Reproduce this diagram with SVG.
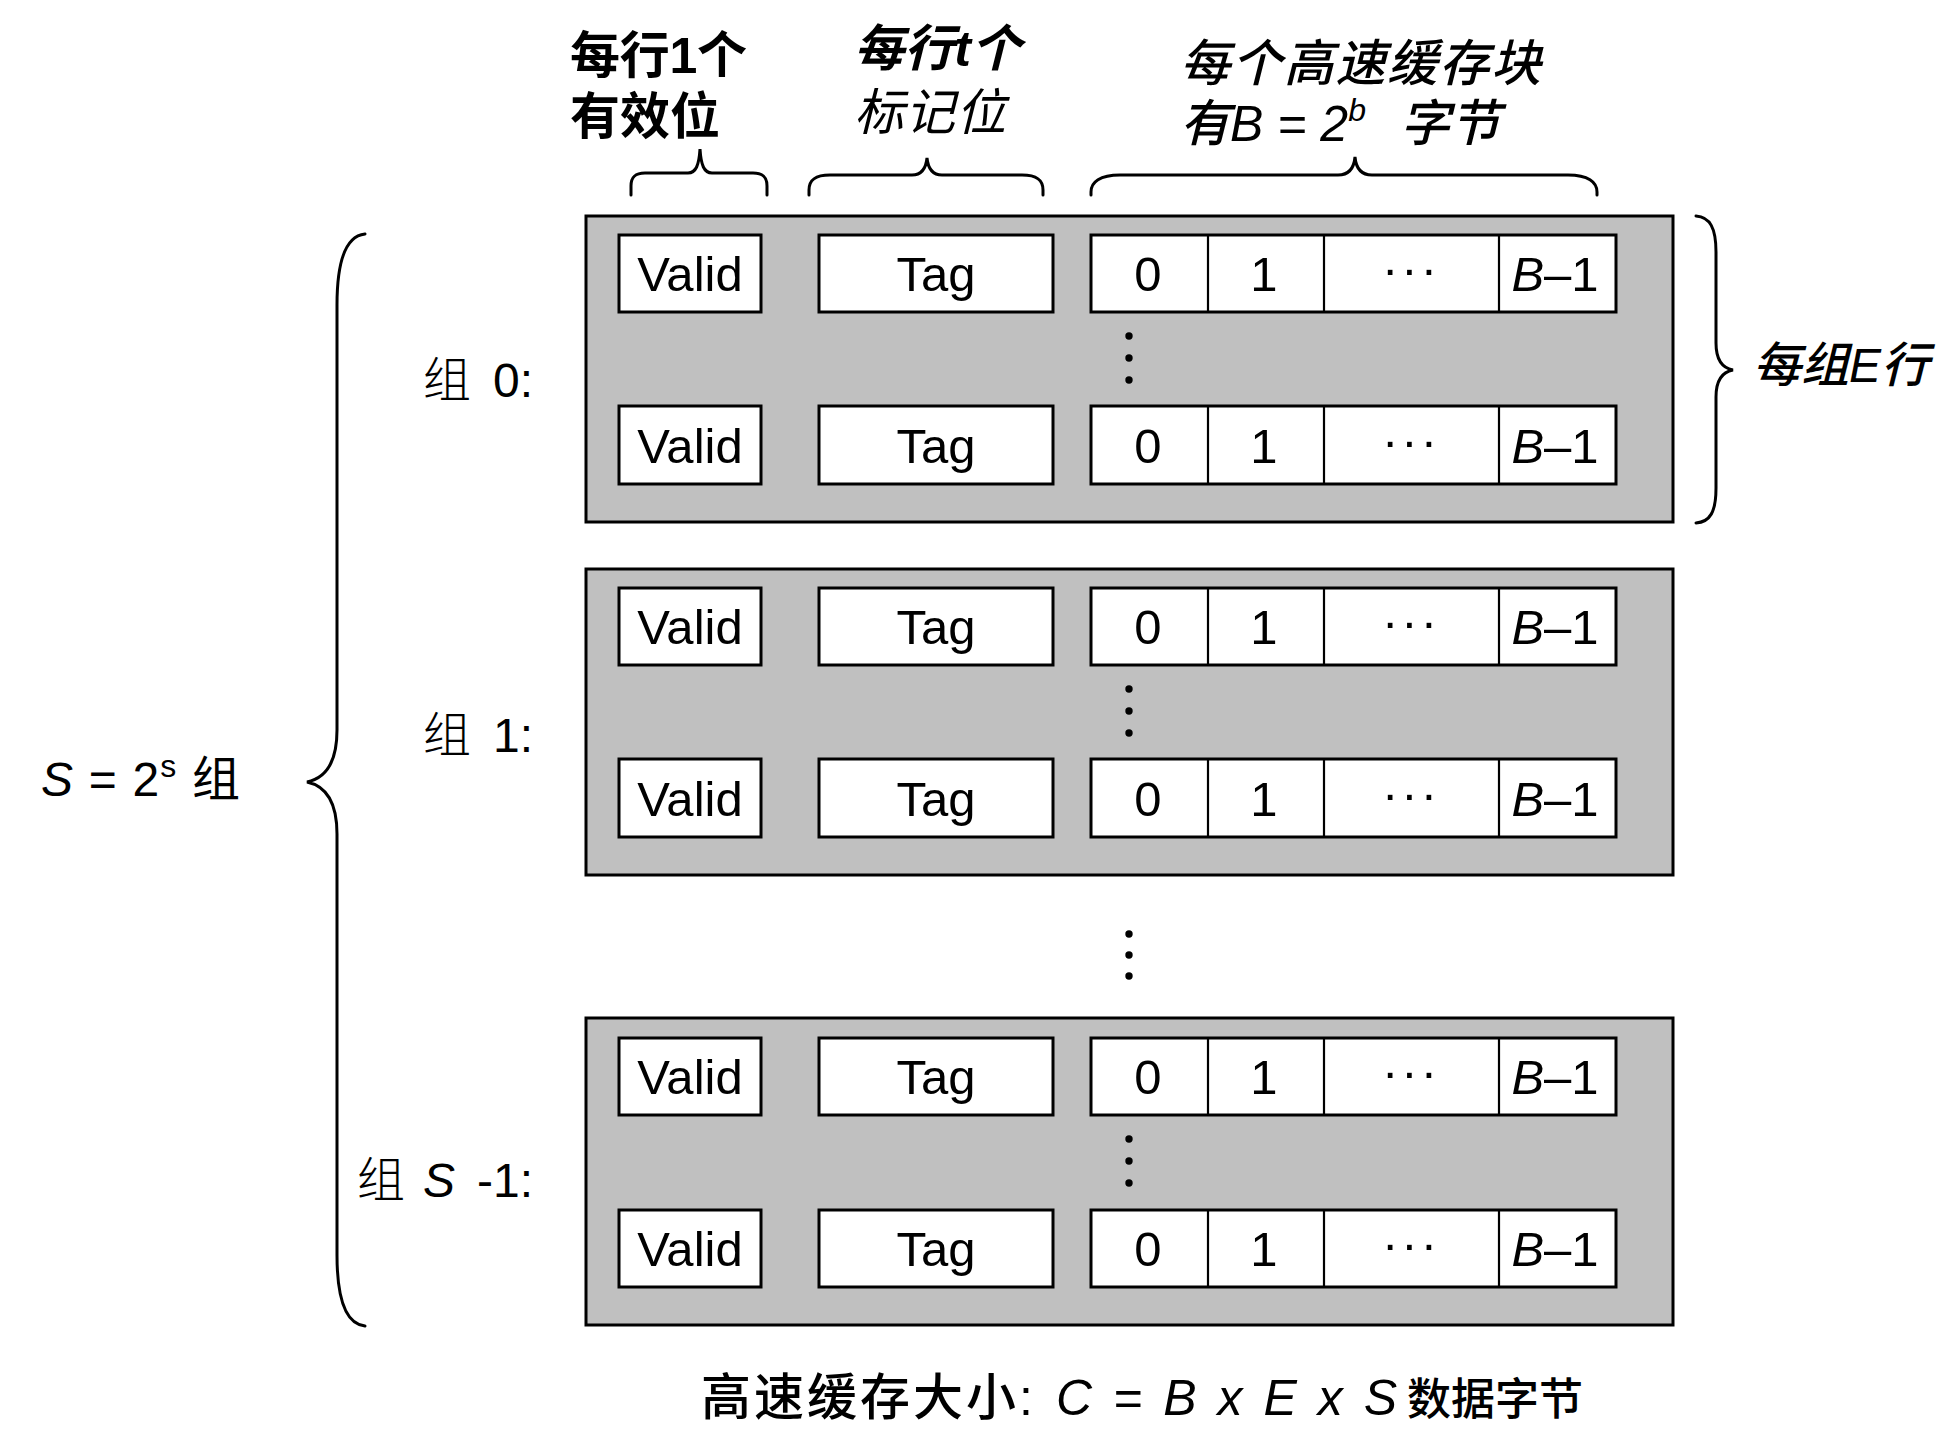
<svg xmlns="http://www.w3.org/2000/svg" width="1952" height="1436" viewBox="0 0 1952 1436">
<style>
.set{fill:#c0c0c0;stroke:#000;stroke-width:3}
.cell{fill:#fff;stroke:#000;stroke-width:3}
.div{stroke:#000;stroke-width:2.2;fill:none}
.br{fill:none;stroke:#000;stroke-width:3;stroke-linecap:round}
.t{font-family:"Liberation Sans","Noto Sans CJK SC",sans-serif;font-size:49px;fill:#000;text-anchor:middle}
.dots{font-family:"Liberation Sans",sans-serif;font-size:49px;fill:#000;text-anchor:middle;letter-spacing:3px}
.cjk{font-family:"Liberation Sans","Noto Sans CJK SC",sans-serif;fill:#000}
.it{font-style:italic}
</style>
<rect width="1952" height="1436" fill="#fff"/>

<g id="top-labels">
<text class="cjk" font-size="50" font-weight="bold" x="570" y="73" textLength="177" lengthAdjust="spacing">每行1个</text>
<text class="cjk" font-size="50" font-weight="bold" x="570" y="134" textLength="150" lengthAdjust="spacing">有效位</text>
<text class="cjk it" font-size="50" font-weight="bold" x="854" y="66" textLength="167" lengthAdjust="spacing">每行t个</text>
<text class="cjk it" font-size="50" x="854" y="130" textLength="152" lengthAdjust="spacing">标记位</text>
<text class="cjk it" font-size="50" font-weight="500" x="1180" y="81" textLength="361" lengthAdjust="spacing">每个高速缓存块</text>
<text class="cjk it" font-size="50" font-weight="500" x="1180" y="141">有B = 2<tspan font-size="32" dy="-20">b</tspan></text>
<text class="cjk it" font-size="50" font-weight="500" x="1400" y="141">字节</text>
</g>

<g id="connectors">
<path class="br" d="M631,195 L631,186 C631,177 635,173 645,173 L688,173 C696,173 699,165 700,149 C701,165 704,173 712,173 L753,173 C763,173 767,177 767,186 L767,195"/>
<path class="br" d="M809,195 L809,190 C809,180 815,175 830,175 L912,175 C922,175 926,168 927,158 C928,168 932,175 942,175 L1022,175 C1037,175 1043,180 1043,190 L1043,195"/>
<path class="br" d="M1091,195 L1091,192 C1091,182 1100,175 1120,175 L1338,175 C1349,175 1354,168 1355,157 C1356,168 1361,175 1372,175 L1568,175 C1588,175 1597,182 1597,192 L1597,195"/>
<path class="br" d="M1696,216 C1710,217 1716,228 1716,252 L1716,343 C1716,360 1722,368 1733,370 C1722,372 1716,380 1716,397 L1716,488 C1716,512 1710,522 1696,523"/>
<path class="br" d="M365,234 C346,236 337,262 337,305 L337,730 C337,763 326,778 307,782 C326,786 337,801 337,834 L337,1255 C337,1298 346,1324 365,1326"/>
</g>

<g id="right-label">
<text class="cjk it" font-size="48" font-weight="500" x="1753" y="382">每组E行</text>
</g>

<g id="left-label">
<text class="cjk" font-size="48" x="41" y="796" textLength="199" lengthAdjust="spacing"><tspan class="it">S</tspan> = 2<tspan font-size="32" dy="-19">s</tspan><tspan dy="19">  组</tspan></text>
</g>

<g id="set-labels">
<text class="cjk" font-size="48" font-weight="300" x="423" y="397">组</text>
<text class="cjk" font-size="48" x="533" y="397" text-anchor="end">0:</text>
<text class="cjk" font-size="48" font-weight="300" x="423" y="752">组</text>
<text class="cjk" font-size="48" x="533" y="752" text-anchor="end">1:</text>
<text class="cjk" font-size="48" font-weight="300" x="357" y="1197">组</text>
<text class="cjk it" font-size="48" x="423" y="1197">S</text>
<text class="cjk" font-size="48" x="533" y="1197" text-anchor="end">-1:</text>
</g>

<g id="set0">
<rect class="set" x="586" y="216" width="1087" height="306"/>
<rect class="cell" x="619" y="235" width="142" height="77"/>
<rect class="cell" x="819" y="235" width="234" height="77"/>
<rect class="cell" x="1091" y="235" width="525" height="77"/>
<path class="div" d="M1208,235V312M1324,235V312M1499,235V312"/>
<text class="t" x="690" y="291">Valid</text>
<text class="t" x="936" y="291">Tag</text>
<text class="t" x="1148" y="291">0</text>
<text class="t" x="1264" y="291">1</text>
<text class="dots" x="1411" y="286">···</text>
<text class="t" x="1555" y="291"><tspan class="it">B</tspan>–1</text>
<circle cx="1129" cy="336" r="3.7"/><circle cx="1129" cy="358" r="3.7"/><circle cx="1129" cy="380" r="3.7"/>
<rect class="cell" x="619" y="406" width="142" height="78"/>
<rect class="cell" x="819" y="406" width="234" height="78"/>
<rect class="cell" x="1091" y="406" width="525" height="78"/>
<path class="div" d="M1208,406V484M1324,406V484M1499,406V484"/>
<text class="t" x="690" y="463">Valid</text>
<text class="t" x="936" y="463">Tag</text>
<text class="t" x="1148" y="463">0</text>
<text class="t" x="1264" y="463">1</text>
<text class="dots" x="1411" y="458">···</text>
<text class="t" x="1555" y="463"><tspan class="it">B</tspan>–1</text>
</g>

<g id="set1">
<rect class="set" x="586" y="569" width="1087" height="306"/>
<rect class="cell" x="619" y="588" width="142" height="77"/>
<rect class="cell" x="819" y="588" width="234" height="77"/>
<rect class="cell" x="1091" y="588" width="525" height="77"/>
<path class="div" d="M1208,588V665M1324,588V665M1499,588V665"/>
<text class="t" x="690" y="644">Valid</text>
<text class="t" x="936" y="644">Tag</text>
<text class="t" x="1148" y="644">0</text>
<text class="t" x="1264" y="644">1</text>
<text class="dots" x="1411" y="639">···</text>
<text class="t" x="1555" y="644"><tspan class="it">B</tspan>–1</text>
<circle cx="1129" cy="689" r="3.7"/><circle cx="1129" cy="711" r="3.7"/><circle cx="1129" cy="733" r="3.7"/>
<rect class="cell" x="619" y="759" width="142" height="78"/>
<rect class="cell" x="819" y="759" width="234" height="78"/>
<rect class="cell" x="1091" y="759" width="525" height="78"/>
<path class="div" d="M1208,759V837M1324,759V837M1499,759V837"/>
<text class="t" x="690" y="816">Valid</text>
<text class="t" x="936" y="816">Tag</text>
<text class="t" x="1148" y="816">0</text>
<text class="t" x="1264" y="816">1</text>
<text class="dots" x="1411" y="811">···</text>
<text class="t" x="1555" y="816"><tspan class="it">B</tspan>–1</text>
</g>

<g id="between-dots">
<circle cx="1129" cy="934" r="3.7"/><circle cx="1129" cy="955" r="3.7"/><circle cx="1129" cy="976" r="3.7"/>
</g>

<g id="setS">
<rect class="set" x="586" y="1018" width="1087" height="307"/>
<rect class="cell" x="619" y="1038" width="142" height="77"/>
<rect class="cell" x="819" y="1038" width="234" height="77"/>
<rect class="cell" x="1091" y="1038" width="525" height="77"/>
<path class="div" d="M1208,1038V1115M1324,1038V1115M1499,1038V1115"/>
<text class="t" x="690" y="1094">Valid</text>
<text class="t" x="936" y="1094">Tag</text>
<text class="t" x="1148" y="1094">0</text>
<text class="t" x="1264" y="1094">1</text>
<text class="dots" x="1411" y="1089">···</text>
<text class="t" x="1555" y="1094"><tspan class="it">B</tspan>–1</text>
<circle cx="1129" cy="1139" r="3.7"/><circle cx="1129" cy="1161" r="3.7"/><circle cx="1129" cy="1183" r="3.7"/>
<rect class="cell" x="619" y="1210" width="142" height="77"/>
<rect class="cell" x="819" y="1210" width="234" height="77"/>
<rect class="cell" x="1091" y="1210" width="525" height="77"/>
<path class="div" d="M1208,1210V1287M1324,1210V1287M1499,1210V1287"/>
<text class="t" x="690" y="1266">Valid</text>
<text class="t" x="936" y="1266">Tag</text>
<text class="t" x="1148" y="1266">0</text>
<text class="t" x="1264" y="1266">1</text>
<text class="dots" x="1411" y="1261">···</text>
<text class="t" x="1555" y="1266"><tspan class="it">B</tspan>–1</text>
</g>

<g id="bottom-label">
<text class="cjk" font-size="50" font-weight="500" x="701" y="1415" textLength="332" lengthAdjust="spacing">高速缓存大小:</text>
<text class="cjk it" font-size="50" x="1056" y="1415" textLength="341" lengthAdjust="spacing">C = B x E x S</text>
<text class="cjk" font-size="44" font-weight="500" x="1407" y="1415">数据字节</text>
</g>
</svg>
